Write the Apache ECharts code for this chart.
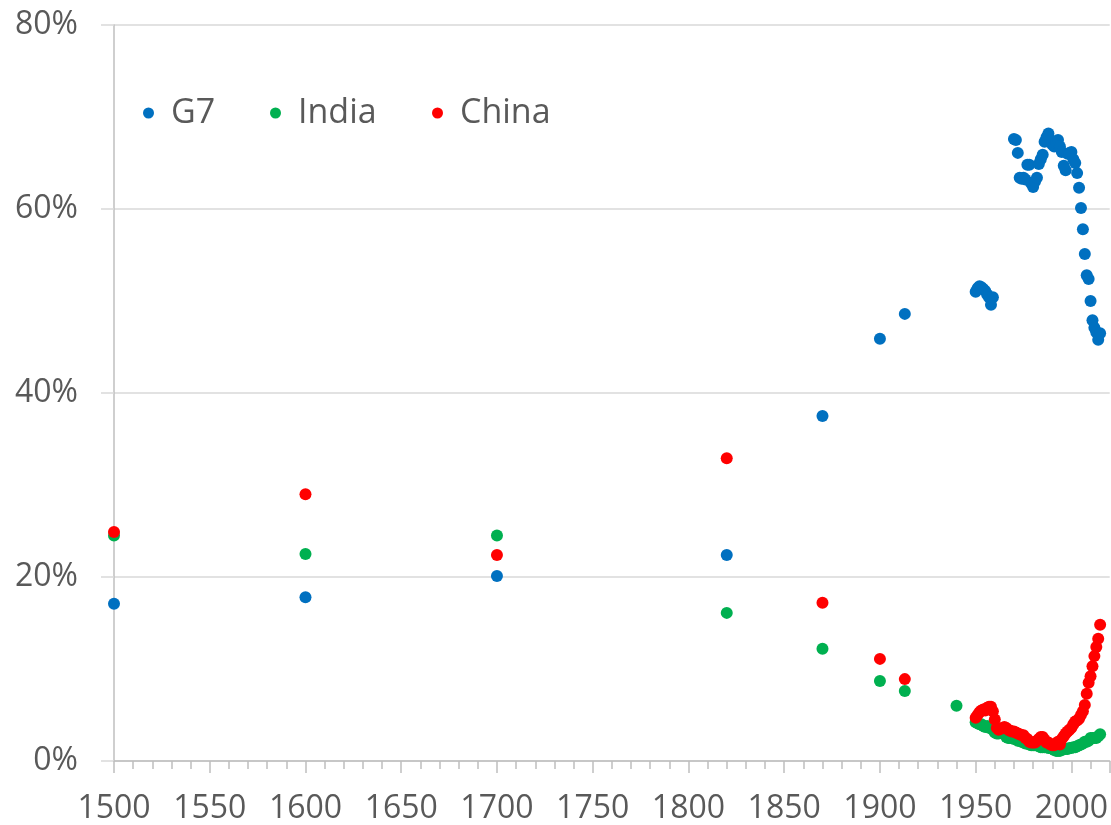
<!DOCTYPE html>
<html>
<head>
<meta charset="utf-8">
<script src="https://cdn.jsdelivr.net/npm/echarts@6/dist/echarts.min.js"></script>
<style>
html,body{margin:0;padding:0;background:#fff;}
#chart{width:1111px;height:825px;}
</style>
</head>
<body>
<div id="chart"></div>
<script>
// ---- Data (share of world GDP, %) ----
const seriesNames = ['G7', 'India', 'China'];
const yTicks = [0, 20, 40, 60, 80];

const g7Years = [1500, 1600, 1700, 1820, 1870, 1900, 1913,
  1950, 1951, 1952, 1953, 1954, 1955, 1956, 1957, 1958, 1959,
  1970, 1971, 1972, 1973, 1974, 1975, 1976, 1977, 1978, 1979,
  1980, 1981, 1982, 1983, 1984, 1985, 1986, 1987, 1988, 1989,
  1990, 1991, 1992, 1993, 1994, 1995, 1996, 1997, 1998, 1999,
  2000, 2001, 2002, 2003, 2004, 2005, 2006, 2007, 2008, 2009,
  2010, 2011, 2012, 2013, 2014, 2015];
const g7Values = [17.1, 17.8, 20.1, 22.4, 37.5, 45.9, 48.6,
  51.0, 51.4, 51.6, 51.5, 51.3, 51.1, 50.7, 50.4, 49.6, 50.4,
  67.6, 67.5, 66.1, 63.4, 63.3, 63.4, 63.2, 64.8, 64.8, 62.8,
  62.4, 63.0, 63.4, 64.9, 65.4, 65.9, 67.3, 67.8, 68.2, 67.5,
  67.0, 66.8, 67.2, 67.5, 66.8, 66.2, 64.7, 64.2, 66.0, 66.1,
  66.2, 65.4, 65.0, 63.9, 62.3, 60.1, 57.8, 55.1, 52.8, 52.4,
  50.0, 47.9, 47.1, 46.6, 45.8, 46.5];

const indiaYears = [1500, 1600, 1700, 1820, 1870, 1900, 1913, 1940,
  1950, 1951, 1952, 1953, 1954, 1955, 1956, 1957, 1958, 1959,
  1960, 1961, 1962, 1963, 1964, 1965, 1966, 1967, 1968, 1969,
  1970, 1971, 1972, 1973, 1974, 1975, 1976, 1977, 1978, 1979,
  1980, 1981, 1982, 1983, 1984, 1985, 1986, 1987, 1988, 1989,
  1990, 1991, 1992, 1993, 1994, 1995, 1996, 1997, 1998, 1999,
  2000, 2001, 2002, 2003, 2004, 2005, 2006, 2007, 2008, 2009,
  2010, 2011, 2012, 2013, 2014, 2015];
const indiaValues = [24.5, 22.5, 24.5, 16.1, 12.2, 8.7, 7.6, 6.0,
  4.2, 4.1, 4.0, 4.0, 3.8, 3.7, 3.8, 3.6, 3.6, 3.4,
  3.1, 3.0, 3.0, 3.1, 3.2, 3.1, 2.6, 2.5, 2.5, 2.5,
  2.4, 2.4, 2.2, 2.2, 2.1, 2.0, 1.9, 1.9, 1.8, 1.7,
  1.7, 1.7, 1.7, 1.6, 1.5, 1.5, 1.5, 1.5, 1.4, 1.4,
  1.4, 1.2, 1.1, 1.1, 1.1, 1.2, 1.3, 1.3, 1.3, 1.4,
  1.4, 1.5, 1.5, 1.6, 1.7, 1.8, 1.9, 2.1, 2.1, 2.2,
  2.5, 2.5, 2.5, 2.5, 2.7, 2.9];

const chinaYears = [1500, 1600, 1700, 1820, 1870, 1900, 1913,
  1950, 1951, 1952, 1953, 1954, 1955, 1956, 1957, 1958, 1959,
  1960, 1961, 1962, 1963, 1964, 1965, 1966, 1967, 1968, 1969,
  1970, 1971, 1972, 1973, 1974, 1975, 1976, 1977, 1978, 1979,
  1980, 1981, 1982, 1983, 1984, 1985, 1986, 1987, 1988, 1989,
  1990, 1991, 1992, 1993, 1994, 1995, 1996, 1997, 1998, 1999,
  2000, 2001, 2002, 2003, 2004, 2005, 2006, 2007, 2008, 2009,
  2010, 2011, 2012, 2013, 2014, 2015];
const chinaValues = [24.9, 29.0, 22.4, 32.9, 17.2, 11.1, 8.9,
  4.7, 5.0, 5.3, 5.5, 5.6, 5.5, 5.8, 5.9, 5.9, 5.4,
  4.5, 3.6, 3.4, 3.5, 3.6, 3.7, 3.6, 3.4, 3.3, 3.2,
  3.2, 3.1, 3.0, 2.9, 2.8, 2.8, 2.5, 2.4, 2.1, 2.0,
  2.0, 2.0, 2.2, 2.4, 2.6, 2.6, 2.3, 2.0, 2.0, 1.8,
  1.7, 1.7, 1.9, 2.1, 1.8, 2.4, 2.7, 3.0, 3.2, 3.4,
  3.6, 4.0, 4.3, 4.4, 4.6, 5.0, 5.4, 6.1, 7.3, 8.5,
  9.2, 10.3, 11.4, 12.4, 13.3, 14.8];

const colors = ['#0070C0', '#00B050', '#FF0000'];

function pairs(xs, ys) { return xs.map((x, i) => [x, ys[i]]); }

const FONT = '"Open Sans", "Noto Sans", sans-serif';
const TEXT = '#595959';

const chart = echarts.init(document.getElementById('chart'), null, {renderer: 'canvas'});

const legendLefts = [143, 270, 432];
const legends = seriesNames.map((n, i) => ({
  data: [n],
  left: legendLefts[i],
  top: 96,
  padding: 0,
  orient: 'horizontal',
  icon: 'circle',
  itemWidth: 11,
  itemHeight: 11,
  selectedMode: false,
  textStyle: {fontFamily: FONT, fontSize: 34, color: TEXT, padding: [0, 0, 0, 12]}
}));

chart.setOption({
  animation: false,
  backgroundColor: '#fff',
  color: colors,
  legend: legends,
  grid: {left: 114, width: 1000, top: 25, bottom: 64, containLabel: false},
  xAxis: {
    type: 'value',
    min: 1500,
    max: 2020,
    interval: 50,
    axisLine: {show: true, onZero: false, lineStyle: {color: '#BFBFBF', width: 1.5}},
    axisTick: {show: true, length: 12, lineStyle: {color: '#BFBFBF', width: 1.5}},
    minorTick: {show: true, splitNumber: 5, length: 8, lineStyle: {color: '#BFBFBF', width: 1.5}},
    splitLine: {show: false},
    axisLabel: {
      fontFamily: FONT, fontSize: 32, color: TEXT, margin: 32,
      showMaxLabel: false,
      formatter: v => (v % 50 === 0 && v <= 2000) ? String(v) : ''
    }
  },
  yAxis: {
    type: 'value',
    min: yTicks[0],
    max: yTicks[yTicks.length - 1],
    interval: 20,
    axisLine: {show: true, lineStyle: {color: '#BFBFBF', width: 1.5}},
    axisTick: {show: true, length: 13, lineStyle: {color: '#D9D9D9', width: 1.5}},
    splitLine: {show: true, lineStyle: {color: '#D9D9D9', width: 1.5}},
    axisLabel: {
      fontFamily: FONT, fontSize: 32, color: TEXT, margin: 36,
      formatter: v => v + '%'
    }
  },
  series: [
    {name: 'G7', type: 'scatter', symbolSize: 12, data: pairs(g7Years, g7Values),
     itemStyle: {color: colors[0], opacity: 1}},
    {name: 'India', type: 'scatter', symbolSize: 12, data: pairs(indiaYears, indiaValues),
     itemStyle: {color: colors[1], opacity: 1}},
    {name: 'China', type: 'scatter', symbolSize: 12, data: pairs(chinaYears, chinaValues),
     itemStyle: {color: colors[2], opacity: 1}}
  ]
});
</script>
</body>
</html>
